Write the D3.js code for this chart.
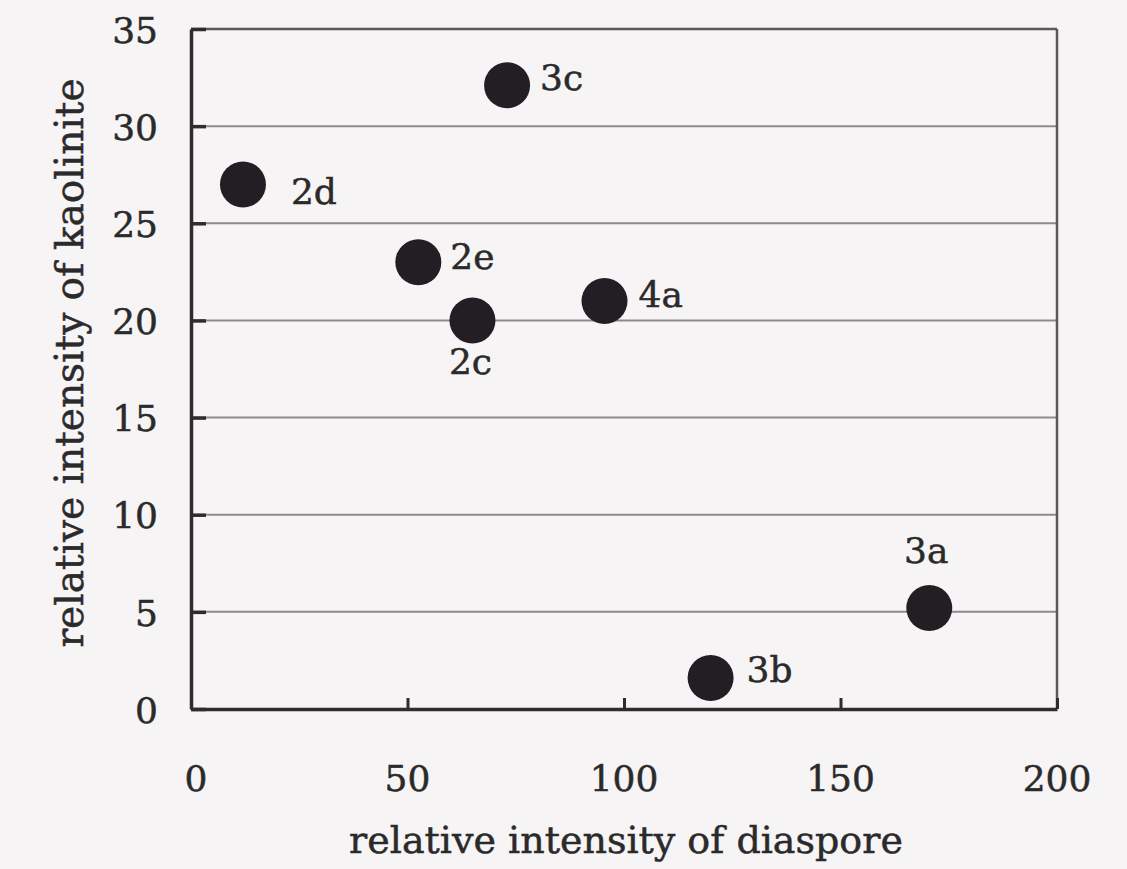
<!DOCTYPE html>
<html>
<head>
<meta charset="utf-8">
<script src="https://cdn.jsdelivr.net/npm/d3@7"></script>
<style>
  html, body { margin: 0; padding: 0; background: #f6f4f4; }
  svg { display: block; }
  text { font-family: "DejaVu Serif", "Liberation Serif", serif; fill: #2b2a2b; stroke: #2b2a2b; stroke-width: 0.5px; }
</style>
</head>
<body>
<svg id="chart" width="1127" height="869"></svg>
<script>
// Sample labels and their relative XRD intensities
const samples   = ["2d", "3c", "2e", "2c", "4a", "3b", "3a"];
const diaspore  = [12, 73, 52.5, 65, 95.5, 120, 170.5];
const kaolinite = [27, 32.1, 23, 20, 21, 1.6, 5.2];

const xTicks = [0, 50, 100, 150, 200];
const yTicks = [0, 5, 10, 15, 20, 25, 30, 35];

// label placement around each dot: [anchor, dx, dy] in pixels
const labelPlacement = [
  ["start", 48, 20],
  ["start", 33, 5],
  ["start", 32, 7],
  ["middle", -2, 54],
  ["start", 34, 6],
  ["start", 36, 4],
  ["middle", -3, -45]
];

const svg = d3.select("#chart");
const plotLeft = 191, plotRight = 1057, plotTop = 29, plotBottom = 709;

const x = d3.scaleLinear().domain([0, 200]).range([plotLeft, plotRight]);
const y = d3.scaleLinear().domain([0, 35]).range([plotBottom, plotTop]);

// horizontal gridlines
svg.append("g")
  .selectAll("line")
  .data(yTicks.filter(v => v > 0 && v < 35))
  .join("line")
  .attr("x1", plotLeft).attr("x2", plotRight)
  .attr("y1", d => y(d)).attr("y2", d => y(d))
  .attr("stroke", "#8c8a8c").attr("stroke-width", 2);

// plot frame: top and right thin, left and bottom heavy
svg.append("line").attr("x1", plotLeft).attr("x2", plotRight).attr("y1", plotTop).attr("y2", plotTop)
  .attr("stroke", "#5a585a").attr("stroke-width", 2.5);
svg.append("line").attr("x1", plotRight).attr("x2", plotRight).attr("y1", plotTop).attr("y2", plotBottom)
  .attr("stroke", "#5a585a").attr("stroke-width", 2.5);

// y axis with inward ticks
const yAxis = svg.append("g")
  .attr("transform", `translate(${plotLeft},0)`)
  .call(d3.axisRight(y).tickValues(yTicks).tickSize(15).tickSizeOuter(0).tickFormat(""));
yAxis.select(".domain").attr("stroke", "#2e2c2e").attr("stroke-width", 3.5);
yAxis.selectAll(".tick line").attr("stroke", "#2e2c2e").attr("stroke-width", 3.5);

svg.append("g")
  .selectAll("text")
  .data(yTicks)
  .join("text")
  .attr("x", 158)
  .attr("y", d => y(d))
  .attr("dy", "0.38em")
  .attr("text-anchor", "end")
  .attr("font-size", 36)
  .text(d => d);

// x axis with inward ticks
const xAxis = svg.append("g")
  .attr("transform", `translate(0,${plotBottom})`)
  .call(d3.axisTop(x).tickValues(xTicks).tickSize(11).tickSizeOuter(0).tickFormat(""));
xAxis.select(".domain").attr("stroke", "#2e2c2e").attr("stroke-width", 3.5);
xAxis.selectAll(".tick line").attr("stroke", "#2e2c2e").attr("stroke-width", 3);

svg.append("g")
  .selectAll("text")
  .data(xTicks)
  .join("text")
  .attr("x", d => x(d) + (d === 0 ? 5 : 0))
  .attr("y", 791)
  .attr("text-anchor", "middle")
  .attr("font-size", 36)
  .text(d => d);

// axis titles
svg.append("text")
  .attr("x", 626).attr("y", 853)
  .attr("text-anchor", "middle")
  .attr("font-size", 38)
  .text("relative intensity of diaspore");

svg.append("text")
  .attr("transform", "translate(83,363) rotate(-90)")
  .attr("text-anchor", "middle")
  .attr("font-size", 39)
  .text("relative intensity of kaolinite");

// data points
const pts = samples.map((s, i) => ({
  s, dx: diaspore[i], ky: kaolinite[i],
  anchor: labelPlacement[i][0], ox: labelPlacement[i][1], oy: labelPlacement[i][2]
}));

svg.append("g")
  .selectAll("circle")
  .data(pts)
  .join("circle")
  .attr("cx", d => x(d.dx))
  .attr("cy", d => y(d.ky))
  .attr("r", 23)
  .attr("fill", "#221e24");

svg.append("g")
  .selectAll("text")
  .data(pts)
  .join("text")
  .attr("font-size", 36)
  .attr("text-anchor", d => d.anchor)
  .attr("x", d => x(d.dx) + d.ox)
  .attr("y", d => y(d.ky) + d.oy)
  .text(d => d.s);
</script>
</body>
</html>
